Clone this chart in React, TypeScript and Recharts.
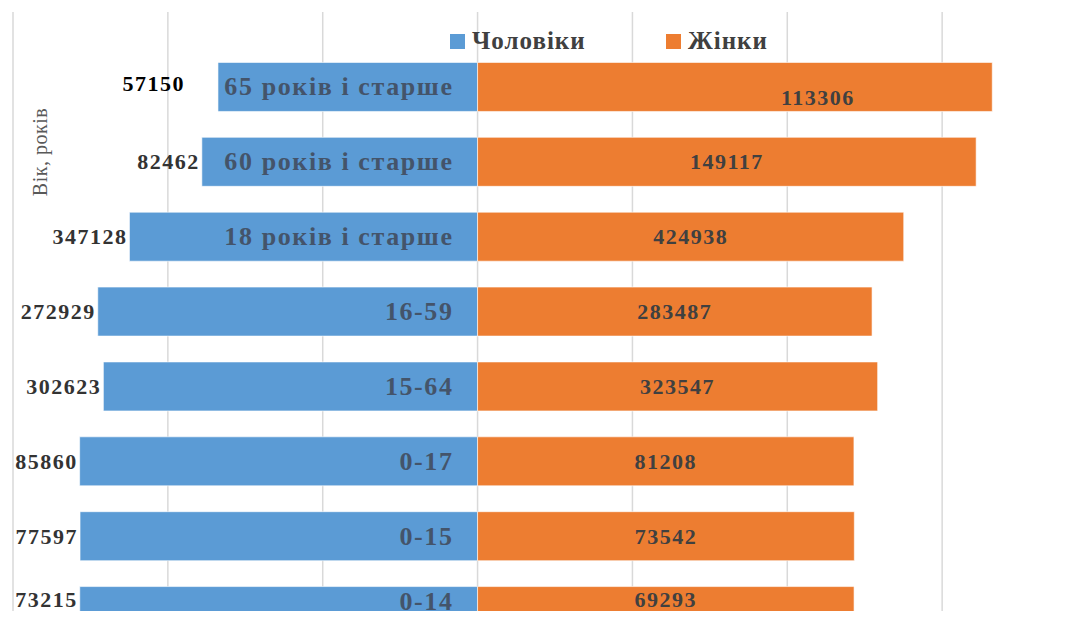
import { Bar, BarChart, CartesianGrid, LabelList, XAxis, YAxis } from "recharts";

const categories = [
  "65 років і старше",
  "60 років і старше",
  "18 років і старше",
  "16-59",
  "15-64",
  "0-17",
  "0-15",
  "0-14",
];
const maleCounts = [57150, 82462, 347128, 272929, 302623, 85860, 77597, 73215];
const femaleCounts = [113306, 149117, 424938, 283487, 323547, 81208, 73542, 69293];
const seriesNames = ["Чоловіки", "Жінки"];
const xTicks = [-60, -40, -20, 0, 20, 40, 60];

const BLUE = "#5b9bd5";
const ORANGE = "#ed7d31";
const SERIF = '"Liberation Serif", "Times New Roman", serif';
const PLOT_BOTTOM = 611;

// bar length = share of the age group (male left, female right), labels show counts
const data = categories.map((category, i) => {
  const total = maleCounts[i] + femaleCounts[i];
  return {
    idx: i,
    category,
    maleCount: maleCounts[i],
    femaleCount: femaleCounts[i],
    male: -(maleCounts[i] / total) * 100,
    female: (femaleCounts[i] / total) * 100,
  };
});

// the last row is cut by the plot edge, keep its labels in the visible part
function labelY(y: number, height: number) {
  return Math.min(y + height / 2, PLOT_BOTTOM - 12);
}

function MaleValueLabel(props: any) {
  const { x, y, width, height, value, index } = props;
  const left = Math.min(x, x + width);
  return (
    <text
      x={left - (index === 0 ? 33 : 2)}
      y={labelY(y, height) - (index === 0 ? 3 : 0)}
      textAnchor="end"
      dominantBaseline="central"
      fontFamily={SERIF}
      fontWeight="bold"
      fontSize={22}
      letterSpacing={1.5}
      fill={index === 0 ? "#000" : "#333"}
    >
      {value}
    </text>
  );
}

function CategoryLabel(props: any) {
  const { x, y, width, height, value } = props;
  const right = Math.max(x, x + width);
  const cy = y + height / 2;
  return (
    <text
      x={right - 24}
      y={cy > PLOT_BOTTOM - 12 ? PLOT_BOTTOM - 10 : cy}
      textAnchor="end"
      dominantBaseline="central"
      fontFamily={SERIF}
      fontWeight="bold"
      fontSize={26}
      letterSpacing={1.6}
      fill="#44546a"
    >
      {value}
    </text>
  );
}

function FemaleValueLabel(props: any) {
  const { x, y, width, height, value, index } = props;
  return (
    <text
      x={x + width / 2 + (index === 0 ? 83 : 0)}
      y={labelY(y, height) + (index === 0 ? 11 : 0)}
      textAnchor="middle"
      dominantBaseline="central"
      fontFamily={SERIF}
      fontWeight="bold"
      fontSize={22}
      letterSpacing={1.5}
      fill="#404040"
    >
      {value}
    </text>
  );
}

export default function App() {
  const legendItems = [
    { name: seriesNames[0], color: BLUE, left: 450 },
    { name: seriesNames[1], color: ORANGE, left: 666 },
  ];
  return (
    <div
      style={{
        position: "absolute",
        left: 0,
        top: 0,
        width: 1084,
        height: 618,
        background: "#fff",
        overflow: "hidden",
      }}
    >
      <BarChart
        width={1110}
        height={618}
        data={data}
        layout="vertical"
        stackOffset="sign"
        margin={{ top: 12, right: 13, bottom: 7, left: 13 }}
      >
        <CartesianGrid horizontal={false} stroke="#d9d9d9" strokeWidth={1.5} />
        <XAxis type="number" domain={[-60, 80]} ticks={xTicks} hide />
        <YAxis type="number" dataKey="idx" domain={[-1, 7]} allowDataOverflow hide />
        <Bar
          dataKey="male"
          name={seriesNames[0]}
          stackId="a"
          fill={BLUE}
          stroke="#ffffff"
          strokeWidth={0.6}
          barSize={49}
          isAnimationActive={false}
        >
          <LabelList dataKey="maleCount" content={MaleValueLabel} />
          <LabelList dataKey="category" content={CategoryLabel} />
        </Bar>
        <Bar
          dataKey="female"
          name={seriesNames[1]}
          stackId="a"
          fill={ORANGE}
          stroke="#ffffff"
          strokeWidth={0.6}
          barSize={49}
          isAnimationActive={false}
        >
          <LabelList dataKey="femaleCount" content={FemaleValueLabel} />
        </Bar>
      </BarChart>

      {legendItems.map((item) => (
        <div
          key={item.name}
          style={{
            position: "absolute",
            left: item.left,
            top: 27,
            display: "flex",
            alignItems: "center",
            fontFamily: SERIF,
            fontWeight: "bold",
            fontSize: 25,
            letterSpacing: 1,
            color: "#404040",
          }}
        >
          <span
            style={{
              display: "inline-block",
              width: 15,
              height: 15,
              background: item.color,
              marginRight: 7,
            }}
          />
          {item.name}
        </div>
      ))}

      <div
        style={{
          position: "absolute",
          left: 40,
          top: 152,
          transform: "translate(-50%, -50%) rotate(-90deg)",
          whiteSpace: "nowrap",
          fontFamily: SERIF,
          fontSize: 20,
          letterSpacing: 0.5,
          color: "#595959",
        }}
      >
        Вік, років
      </div>
    </div>
  );
}
